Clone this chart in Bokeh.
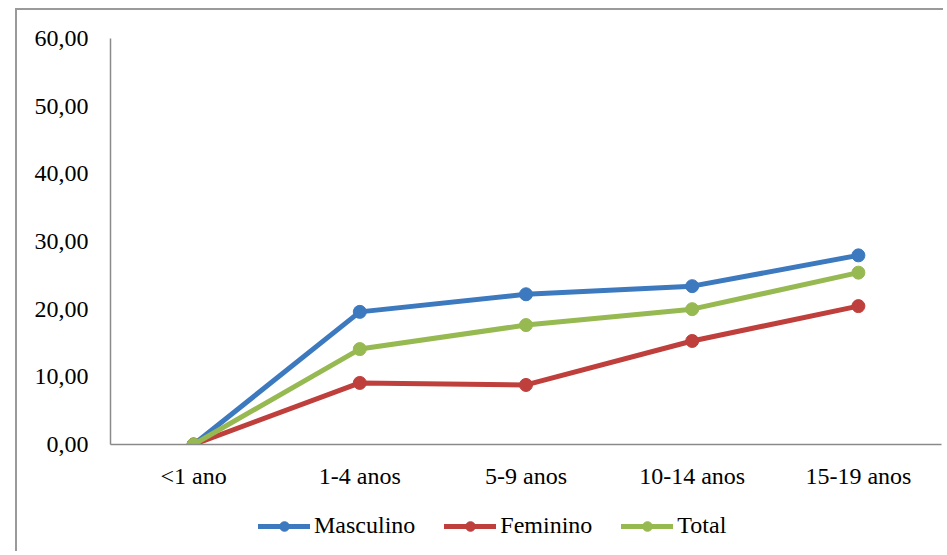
from bokeh.plotting import figure
from bokeh.layouts import column
from bokeh.models import FixedTicker, Legend, LegendItem, ColumnDataSource, Range1d, FactorRange
from bokeh.embed import file_html
from bokeh.resources import INLINE

categories = ["<1 ano", "1-4 anos", "5-9 anos", "10-14 anos", "15-19 anos"]
masculino = [0.0, 19.6, 22.2, 23.4, 27.95]
feminino = [0.0, 9.1, 8.8, 15.3, 20.45]
total = [0.0, 14.1, 17.65, 20.0, 25.4]
y_ticks = [0, 10, 20, 30, 40, 50, 60]
y_tick_labels = ["0,00", "10,00", "20,00", "30,00", "40,00", "50,00", "60,00"]

series = [("Masculino", masculino, "#3d79bf"),
          ("Feminino", feminino, "#bf3f3c"),
          ("Total", total, "#97b952")]

FONT = "Liberation Serif"
FS = "24px"

p = figure(x_range=categories, y_range=(0, 60), frame_width=831, frame_height=406,
           output_backend="svg", toolbar_location=None,
           min_border_left=93, min_border_top=28, min_border_bottom=60, min_border_right=2)
p.outline_line_color = None
p.xgrid.grid_line_color = None
p.ygrid.grid_line_color = None

# legend strip: same series, its view range set away from the data so only the legend shows
q = figure(width=926, height=47, x_range=FactorRange(*categories), y_range=Range1d(-100, -99),
           x_axis_type=None, y_axis_type=None,
           output_backend="svg", toolbar_location=None,
           min_border_left=0, min_border_right=0, min_border_top=0, min_border_bottom=0)
q.outline_line_color = None
q.xgrid.grid_line_color = None
q.ygrid.grid_line_color = None

items = []
for name, vals, color in series:
    src = ColumnDataSource(dict(x=categories, y=vals))
    p.line("x", "y", source=src, line_color=color, line_width=5, line_join="round", line_cap="round")
    p.scatter("x", "y", source=src, size=13, fill_color=color, line_color=color)
    l1 = q.line("x", "y", source=src, line_color=color, line_width=5, line_cap="round")
    l2 = q.scatter("x", "y", source=src, size=13, fill_color=color, line_color=color)
    items.append(LegendItem(label=name, renderers=[l1, l2]))

p.yaxis.ticker = FixedTicker(ticks=y_ticks)
p.yaxis.major_label_overrides = {t: l for t, l in zip(y_ticks, y_tick_labels)}
for ax in (p.xaxis[0], p.yaxis[0]):
    ax.axis_line_color = "#8a8a8a"
    ax.axis_line_width = 1.5
    ax.major_tick_line_color = None
    ax.minor_tick_line_color = None
    ax.major_label_text_font = FONT
    ax.major_label_text_font_size = FS
    ax.major_label_text_color = "#000000"
p.yaxis.major_label_standoff = 16
p.xaxis.major_label_standoff = 12

legend = Legend(items=items, orientation="horizontal", location=(148, 12),
                label_text_font=FONT, label_text_font_size=FS, label_text_color="#000000",
                glyph_width=52, glyph_height=24, label_standoff=4, spacing=29,
                padding=0, margin=0, border_line_color=None, background_fill_alpha=0)
q.add_layout(legend, "center")

layout = column(p, q, spacing=0, margin=(8, 0, 0, 15),
                styles={"border-left": "2px solid #9a9a9a", "border-top": "2px solid #9a9a9a"})

open("out.html", "w").write(file_html(layout, INLINE))
